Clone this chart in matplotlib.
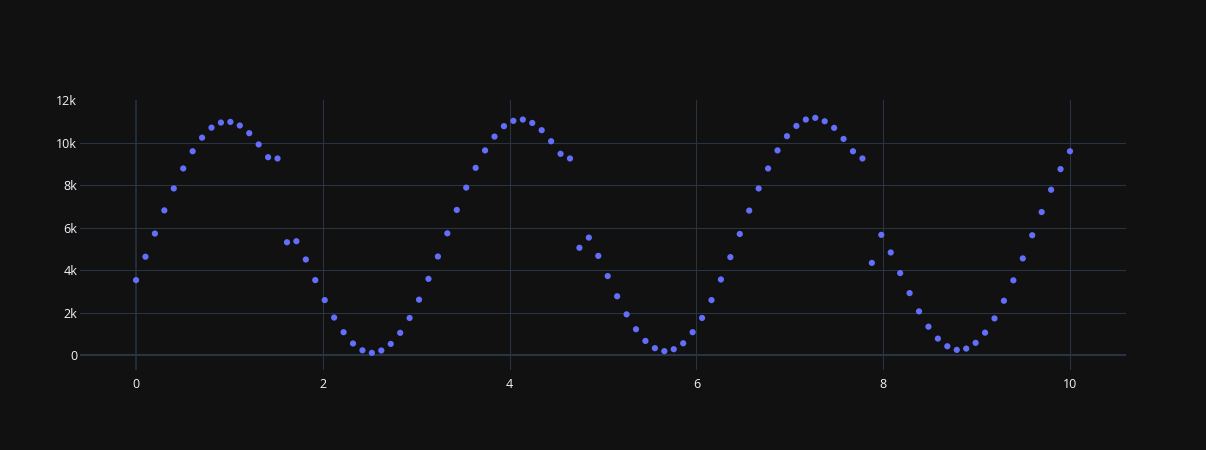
import numpy as np
import matplotlib
matplotlib.use('Agg')
import matplotlib.pyplot as plt
from matplotlib.ticker import FuncFormatter

# x positions: 100 evenly spaced samples from 0 to 10
x = np.linspace(0, 10, 100)

# y values (thousands)
y_k = [
    3.53, 4.63, 5.72, 6.81, 7.84, 8.78, 9.59, 10.23, 10.70, 10.94,
    10.97, 10.80, 10.44, 9.91, 9.31, 9.25, 5.31, 5.36, 4.50, 3.53,
    2.59, 1.77, 1.08, 0.55, 0.23, 0.11, 0.22, 0.53, 1.05, 1.75,
    2.61, 3.59, 4.64, 5.73, 6.83, 7.88, 8.81, 9.63, 10.28, 10.77,
    11.02, 11.08, 10.92, 10.58, 10.06, 9.47, 9.25, 5.05, 5.53, 4.67,
    3.72, 2.77, 1.92, 1.22, 0.67, 0.33, 0.19, 0.28, 0.56, 1.08,
    1.75, 2.59, 3.56, 4.61, 5.70, 6.80, 7.84, 8.78, 9.63, 10.30,
    10.78, 11.08, 11.16, 11.00, 10.69, 10.17, 9.59, 9.25, 4.34, 5.66,
    4.83, 3.86, 2.92, 2.06, 1.34, 0.78, 0.42, 0.25, 0.31, 0.58,
    1.06, 1.73, 2.56, 3.52, 4.55, 5.64, 6.73, 7.78, 8.75, 9.59,
]
y = np.array(y_k) * 1000

x_ticks = [0, 2, 4, 6, 8, 10]
y_ticks = [0, 2000, 4000, 6000, 8000, 10000, 12000]

BG = '#111111'
GRID = '#283442'
MARKER = '#636efa'
TEXT = '#f2f5fa'

W, H = 1206, 450
fig = plt.figure(figsize=(W / 100, H / 100), dpi=100, facecolor=BG)
ax = fig.add_axes([80 / W, 80 / H, 1046 / W, 270 / H])
ax.set_facecolor(BG)

ax.set_xlim(-0.6, 10.6)
ax.set_ylim(-697, 12000)

# grid (plotly_dark style, zero line a bit heavier)
for xv in x_ticks:
    ax.axvline(xv, color=GRID, lw=1.1 if xv == 0 else 0.8, zorder=0)
for yv in y_ticks[:-1]:
    ax.axhline(yv, color=GRID, lw=1.5 if yv == 0 else 0.8, zorder=0)

ax.scatter(x, y, s=20, color=MARKER, edgecolors='none', zorder=3)

ax.set_xticks(x_ticks)
ax.set_yticks(y_ticks)
ax.yaxis.set_major_formatter(
    FuncFormatter(lambda v, p: '0' if v == 0 else f'{int(v / 1000)}k'))
ax.tick_params(axis='both', length=0, colors=TEXT, labelsize=9)
ax.tick_params(axis='x', pad=6)
ax.tick_params(axis='y', pad=2)
for lab in ax.get_xticklabels() + ax.get_yticklabels():
    lab.set_family(['Open Sans', 'DejaVu Sans'])

for s in ax.spines.values():
    s.set_visible(False)

fig.savefig('out.png', dpi=100, facecolor=BG)
